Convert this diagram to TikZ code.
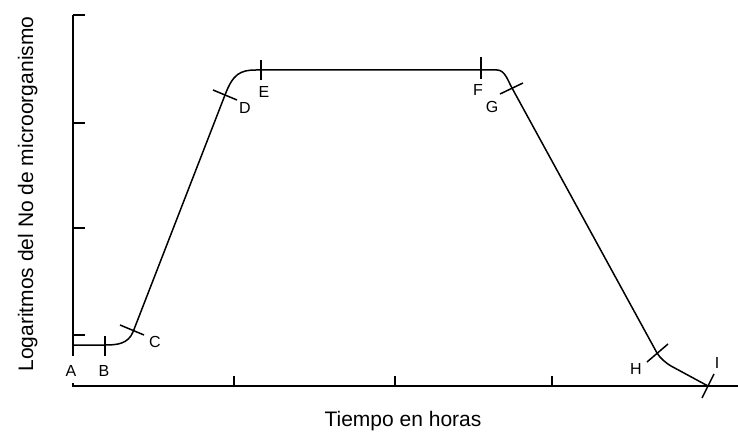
\documentclass[tikz,border=0pt]{standalone}
\usepackage{fontspec}
\setmainfont{Liberation Sans}
\begin{document}
\begin{tikzpicture}[x=1pt, y=-1pt, line width=1.5pt,
		punto/.style={font=\fontsize{16}{18}\selectfont, inner sep=0pt},
		titulo/.style={font=\fontsize{21}{24}\selectfont, inner sep=0pt}]
		\useasboundingbox (0,0) rectangle (738,435);

		% ejes
		\coordinate (ytop) at (73,15);
		\coordinate (ybot) at (73,356);
		\coordinate (xizq) at (73,386);
		\coordinate (xder) at (738,386);
		\draw (ytop) -- (ybot);
		\draw (xizq) ++(0,-3) -- (xizq) -- (xder);
		\foreach \y in {15,123,228,335} \draw (73,\y) -- ++(12,0);
		\foreach \x in {234,395,552} \draw (\x,386) -- ++(0,-10);

		% puntos de la curva
		\coordinate (pA) at (73,345);
		\coordinate (pB) at (105,345);
		\coordinate (pC) at (133,332);
		\coordinate (pD) at (225,95);
		\coordinate (pE) at (261,70);
		\coordinate (pF) at (481,70);
		\coordinate (pG) at (512,88);
		\coordinate (pH) at (657,353);
		\coordinate (pI) at (708,386);

		\draw[line join=round] (pA) -- (pB) .. controls (117,345) and (128,344) .. (pC) -- (pD)
			.. controls (233,74) and (240,70) .. (256,70) -- (pE) -- (pF) -- (497,70)
			.. controls (505,70) and (508,81) .. (pG) -- (pH)
			.. controls (660,358) and (666.6,363.6) .. (671,366) -- (pI);

		% marcas
		\draw (pB) ++(0,-9) -- ++(0,20);
		\draw (pC) ++(-13,-7) -- ++(24,10);
		\draw (pD) ++(-12,-5) -- ++(24,10);
		\draw (pE) ++(0,-10) -- ++(0,20);
		\draw (pF) ++(0,-13) -- ++(0,22);
		\draw (pG) ++(-12,6) -- ++(23,-11);
		\draw (pH) ++(-10,9) -- ++(21,-18);
		\draw (pI) ++(-6,12) -- ++(12,-24);

		% etiquetas
		\node[punto] (labA) at (71,371) {A};
		\node[punto] (labB) at (104,371) {B};
		\node[punto] (labC) at (155,342) {C};
		\node[punto] (labD) at (245,108) {D};
		\node[punto] (labE) at (264,92) {E};
		\node[punto] (labF) at (478,90) {F};
		\node[punto] (labG) at (492,107) {G};
		\node[punto] (labH) at (636,369) {H};
		\node[punto] (labI) at (717,363) {I};

		\node[titulo] (xlab) at (403,421) {Tiempo en horas};
		\node[titulo, rotate=90, anchor=base] (ylab) at (33,194) {Logaritmos del No de microorganismo};
	\end{tikzpicture}
\end{document}
